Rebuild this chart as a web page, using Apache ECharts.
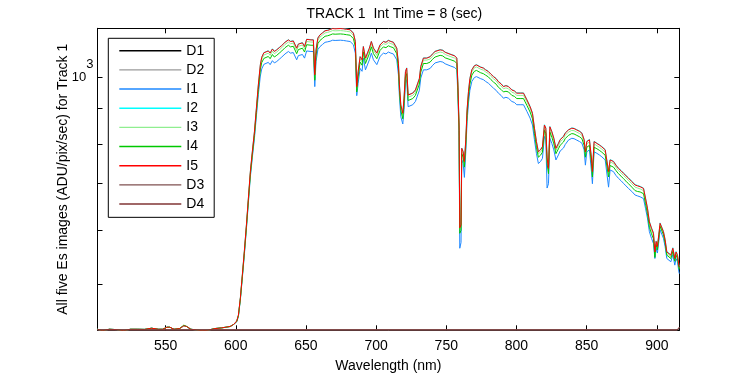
<!DOCTYPE html>
<html>
<head>
<meta charset="utf-8">
<script src="https://cdn.jsdelivr.net/npm/echarts@6/dist/echarts.min.js"></script>
<style>
html,body{margin:0;padding:0;background:#fff;}
#chart{width:750px;height:375px;}
</style>
</head>
<body>
<div id="chart"></div>
<script>
// ---- data ----
const wl = [
 501.5,505,510,515,520,525,530,535,540,545,548,551,553,556,560,563,565,568,572,576,580,585,590,593,596,598.5,
 600.7,601.9,603.3,604.7,606.1,607.6,609.0,610.4,611.8,613.3,614.7,616.1,617.5,618.5,
 620,620.9,623.2,624.5,626.1,627.5,629.2,631,632.8,635.1,637.5,639,641,643.4,644.6,646,647.5,649,650.5,651.7,653.6,655.3,656.3,657.2,658.5,660,
 661.8,663.6,665.5,667.2,669,670.8,672,674.5,676.7,679,681.5,683.8,685.2,686.2,687.2,688.6,690,690.9,692.4,693.8,695.2,696.6,698.1,700.5,
 702.8,705.2,707,708.7,710.5,712.3,714.7,715.9,716.6,717.6,719,719.9,720.9,721.8,722.8,724.2,726.1,728,729.4,730.8,731.8,733.7,736.1,738.5,740,
 742,745.6,747.5,749.2,752.7,756,757.5,758.2,759.1,759.6,760.5,761,762,762.9,763.9,764.8,765.8,766.8,768.2,770,771.5,772.9,774.5,776.4,778,780,
 781.8,783.6,785.5,787.1,789,790.7,792.5,794.3,796.7,798.5,800.2,802.6,805,807.4,809.7,811.4,812.8,814.2,815.6,817.1,818.5,819.9,820.9,821.8,822.8,823.8,825.2,826.6,828.1,829.9,831.1,832.3,833.5,834.7,
 837,839.4,841,843,845,846.6,848.2,849.1,850.1,852,853.4,854.1,855.3,857.3,859,860.8,863.2,864.4,865.6,866.7,869.1,870.8,872.6,874.5,876.2,878,879.8,882.2,884.5,886.3,888.1,890.5,891.9,893.3,894.7,896.2,897.6,898.6,
 899.5,900.4,901.4,902.3,903.5,904.7,905.9,907.1,908.5,910,911.4,912.8,913.7,914.7,915.7,916
];

const I1 = [
 430,428,430,429.5,428,430,430,429.8,431.5,430,430,433,433,430,431,435,434,430,429,428,428.5,431,432,433,434,437,
 441,449,475,511,551,602,657,716,764,815,878,944,1004,1028,
 1044,1049,1051,1043,1057,1049,1054,1062,1070,1081,1090,1084,1086,1060,1075,1081,1079,1066,1092,1097,1090,1090,969,1054,1097,1108,
 1116,1124,1126,1128,1132,1131,1131,1132,1131,1129,1127,1115,1084,940,980,1030,1020,1066,1025,1030,1060,1084,1060,1043,
 1072,1084,1081,1088,1084,1081,1060,1008,938,876,855,897,980,992,906,901,912,922,926,957,997,1025,1025,1030,1039,
 1049,1054,1052,1046,1039,1033,1025,948,820,564,575,758,749,715,780,862,917,957,986,999,1002,997,995,992,986,980,
 972,964,957,948,941,932,935,932,922,919,912,912,912,892,872,852,811,775,749,754,762,820,811,690,700,815,801,784,758,771,781,781,789,798,
 810,815,814,810,806,802,784,745,779,784,730,700,779,775,771,766,758,753,692,733,729,720,713,707,701,695,689,682,674,672,670,666,645,624,596,583,573,545,
 564,555,577,600,602,583,567,545,542,539,552,533,545,539,521,518
];

const I2 = [
 430,428,430,429.5,428,430,430,429.8,431.5,430,430,433,433,430,431,435,434,430,429,428,428.5,431,432,433,434,437,
 442,451,478,516,558,610,667,729,779,833,901,975,1042,1069,
 1086,1091,1093,1085,1100,1091,1097,1105,1113,1125,1134,1128,1130,1103,1118,1125,1123,1109,1136,1141,1134,1134,1009,1097,1141,1153,
 1161,1169,1171,1174,1178,1177,1177,1178,1177,1175,1173,1160,1128,970,1020,1072,1061,1109,1067,1072,1103,1128,1103,1085,
 1115,1128,1125,1132,1128,1125,1103,1049,976,912,887,933,1020,1032,943,938,949,959,964,996,1037,1067,1067,1072,1081,
 1091,1097,1095,1088,1081,1075,1067,986,853,605,611,789,780,755,812,897,954,996,1026,1040,1043,1037,1035,1032,1026,1020,
 1011,1003,996,986,979,970,973,970,959,956,949,949,949,928,907,887,844,807,780,785,793,853,844,764,738,848,834,816,789,802,812,812,821,830,
 839,844,843,839,835,830,812,780,807,812,764,730,807,802,798,793,785,780,730,759,755,746,738,732,726,720,714,706,698,696,694,690,668,646,617,604,594,558,
 578,568,591,614,617,597,581,558,555,552,565,546,558,552,534,531
];

const I3 = [
 430,428,430,429.5,428,430,430,429.8,431.5,430,430,433,433,430,431,435,434,430,429,428,428.5,431,432,433,434,437,
 442,450,477,515,556,608,664,726,775,829,896,969,1035,1062,
 1077,1082,1084,1076,1091,1082,1088,1096,1104,1116,1125,1119,1121,1094,1109,1116,1114,1100,1127,1132,1125,1125,1001,1088,1132,1144,
 1152,1160,1162,1165,1169,1168,1168,1169,1168,1166,1164,1151,1119,962,1012,1063,1053,1100,1059,1063,1094,1119,1094,1076,
 1106,1119,1116,1123,1119,1116,1094,1041,968,905,880,925,1012,1024,935,930,941,951,956,988,1029,1059,1059,1063,1072,
 1082,1088,1086,1079,1072,1066,1059,978,846,600,606,782,774,749,805,890,946,988,1018,1032,1035,1029,1027,1024,1018,1012,
 1003,995,988,978,971,962,965,962,951,948,941,941,941,921,900,880,837,800,774,778,786,846,837,758,732,841,827,809,782,795,805,805,814,823,
 832,837,836,832,828,823,805,774,800,805,758,724,800,795,791,786,778,774,724,753,749,740,732,726,720,714,708,700,692,690,688,684,662,640,612,599,589,553,
 574,564,587,610,613,593,577,554,551,548,561,542,554,548,530,527
];

const I4 = [
 430,428,430,429.5,428,430,430,429.8,431.5,430,430,433,433,430,431,436,434,430,429,428,428.5,431,432,433,434,437,
 441,450,476,513,554,605,661,722,771,823,889,960,1025,1050,
 1065,1070,1072,1064,1079,1070,1076,1084,1092,1104,1113,1107,1109,1082,1097,1104,1102,1088,1115,1119,1113,1113,990,1076,1119,1131,
 1139,1147,1149,1152,1156,1155,1155,1156,1155,1153,1151,1138,1107,952,1001,1052,1041,1088,1047,1052,1082,1107,1082,1064,
 1094,1107,1104,1111,1107,1104,1082,1029,957,895,870,915,1001,1012,925,920,931,941,946,977,1017,1047,1047,1052,1061,
 1070,1076,1074,1067,1061,1055,1047,967,837,593,599,774,765,740,796,880,936,977,1007,1020,1023,1017,1015,1012,1007,1001,
 992,984,977,967,960,952,954,952,941,938,931,931,931,910,890,870,828,791,765,770,778,837,828,749,724,832,818,800,774,787,796,796,805,814,
 823,828,827,823,819,814,796,765,791,796,749,716,791,787,783,778,770,765,716,744,740,732,724,718,712,706,700,692,684,682,681,677,655,633,605,592,582,547,
 571,561,584,607,610,590,574,551,548,545,558,540,551,545,528,525
];

const I5 = [
 430,428,430,429.5,428,430,430,429.8,431.5,430,430,433,433,430,431,435,434,430,429,428,428.5,431,432,433,434,437,
 442,451,478,516,558,610,667,729,779,833,901,975,1042,1069,
 1085,1090,1092,1084,1099,1090,1096,1104,1112,1124,1133,1127,1129,1102,1117,1124,1122,1108,1135,1140,1133,1133,1008,1096,1140,1152,
 1160,1168,1170,1173,1177,1176,1176,1177,1176,1174,1172,1159,1127,969,1019,1071,1060,1108,1066,1071,1102,1127,1102,1084,
 1114,1127,1124,1131,1127,1124,1102,1048,975,911,886,932,1019,1031,942,937,948,958,963,995,1036,1066,1066,1071,1080,
 1090,1096,1094,1087,1080,1074,1066,985,852,604,610,788,779,754,811,896,953,995,1025,1039,1042,1036,1034,1031,1025,1019,
 1010,1002,995,985,978,969,972,969,958,955,948,948,948,927,906,886,843,806,779,784,792,852,843,763,737,847,833,815,788,801,811,811,820,829,
 838,843,842,838,834,829,811,779,806,811,763,729,806,801,797,792,784,779,729,758,754,745,737,731,725,719,713,705,697,695,693,689,667,645,616,603,593,557,
 577,567,590,613,616,596,580,557,554,551,564,545,557,551,533,530
];

const darkWl = [501.5,550,600,650,700,750,800,850,900,914.5,916];
const D1 = [429,429,429,429,429,429,429,429,429,429,431];
const D2 = [429,429,429,429,429,429,429,429,429,429,431.5];
const D3 = [429,429,429,429,429,429,429,429,429,429,432.5];
const D4 = [429,429,429,429,429,429,429,429,429,429,433];

const xTicks = [550,600,650,700,750,800,850,900];
const yTicks = [500,600,700,800,900,1000];
const yLabels = [1000];

const seriesNames = ['D1','D2','I1','I2','I3','I4','I5','D3','D4'];
const seriesColors = ['#000000','#9a9a9a','#1e88ff','#00ffff','#90ee90','#00c800','#ff0000','#7f5050','#803535'];

// ---- build ----
const zip = (xs, ys) => xs.map((x, i) => [x, ys[i]]);
const dataMap = {
  D1: zip(darkWl, D1), D2: zip(darkWl, D2),
  I1: zip(wl, I1), I2: zip(wl, I2), I3: zip(wl, I3), I4: zip(wl, I4), I5: zip(wl, I5),
  D3: zip(darkWl, D3), D4: zip(darkWl, D4)
};

const FONT = 'Liberation Sans, Arial, Helvetica, sans-serif';
const FS = 14;
const xMin = 501.5, xMax = 916, yMin = 428.5, yMax = 1178;

const chart = echarts.init(document.getElementById('chart'), null, {renderer: 'canvas'});

const tickCommon = {inside: true, length: 5, lineStyle: {color: '#000', width: 1}};
const lineCommon = {show: true, onZero: false, lineStyle: {color: '#000', width: 1}};

chart.setOption({
  animation: false,
  backgroundColor: '#fff',
  textStyle: {fontFamily: FONT},
  title: {
    text: 'TRACK 1  Int Time = 8 (sec)',
    left: 306.5, top: 7, padding: 0,
    textStyle: {fontFamily: FONT, fontSize: FS, fontWeight: 'normal', color: '#000'}
  },
  grid: {left: 97.5, top: 28.3, right: 70.7, bottom: 44.7, containLabel: false, outerBoundsMode: 'none'},
  legend: {
    orient: 'vertical', left: 108.3, top: 38.3,
    data: seriesNames,
    icon: 'rect',
    itemWidth: 62, itemHeight: 1.4, itemGap: 0,
    padding: [2.8, 10, 3.7, 11],
    borderColor: '#000', borderWidth: 1, borderRadius: 0, backgroundColor: '#fff',
    textStyle: {fontFamily: FONT, fontSize: FS, color: '#000', lineHeight: 19.17},
    selectedMode: false
  },
  xAxis: [
    {
      type: 'value', min: xMin, max: xMax, position: 'bottom',
      name: 'Wavelength (nm)', nameLocation: 'middle', nameGap: 29, nameMoveOverlap: false,
      nameTextStyle: {fontFamily: FONT, fontSize: FS, color: '#000'},
      axisLine: lineCommon,
      axisTick: Object.assign({customValues: xTicks}, tickCommon),
      axisLabel: {customValues: xTicks, margin: 9, fontFamily: FONT, fontSize: FS, color: '#000'},
      splitLine: {show: false}
    },
    {
      type: 'value', min: xMin, max: xMax, position: 'top',
      axisLine: lineCommon,
      axisTick: Object.assign({customValues: xTicks}, tickCommon),
      axisLabel: {show: false},
      splitLine: {show: false}
    }
  ],
  yAxis: [
    {
      type: 'log', logBase: 10, min: yMin, max: yMax, position: 'left',
      name: 'All five Es images (ADU/pix/sec) for Track 1', nameLocation: 'middle', nameGap: 27, nameRotate: 90,
      nameMoveOverlap: false,
      nameTextStyle: {fontFamily: FONT, fontSize: FS, color: '#000'},
      axisLine: lineCommon,
      axisTick: Object.assign({customValues: yTicks}, tickCommon),
      axisLabel: {
        customValues: yLabels, margin: 4,
        formatter: function () { return '{b|10}{s|3}'; },
        rich: {
          b: {fontFamily: FONT, fontSize: 13, color: '#000', padding: [0, 0, 13, 0], verticalAlign: 'bottom'},
          s: {fontFamily: FONT, fontSize: 13, color: '#000', padding: [0, 0, 26, 0], verticalAlign: 'bottom'}
        }
      },
      splitLine: {show: false}
    },
    {
      type: 'log', logBase: 10, min: yMin, max: yMax, position: 'right',
      axisLine: lineCommon,
      axisTick: Object.assign({customValues: yTicks}, tickCommon),
      axisLabel: {show: false},
      splitLine: {show: false}
    }
  ],
  series: seriesNames.map((n, i) => ({
    name: n, type: 'line', xAxisIndex: 0, yAxisIndex: 0,
    data: dataMap[n], symbol: 'none', showSymbol: false, clip: true,
    color: seriesColors[i],
    lineStyle: {width: 1, color: seriesColors[i]},
    emphasis: {disabled: true},
    z: 2 + i * 0.01
  }))
});
</script>
</body>
</html>
